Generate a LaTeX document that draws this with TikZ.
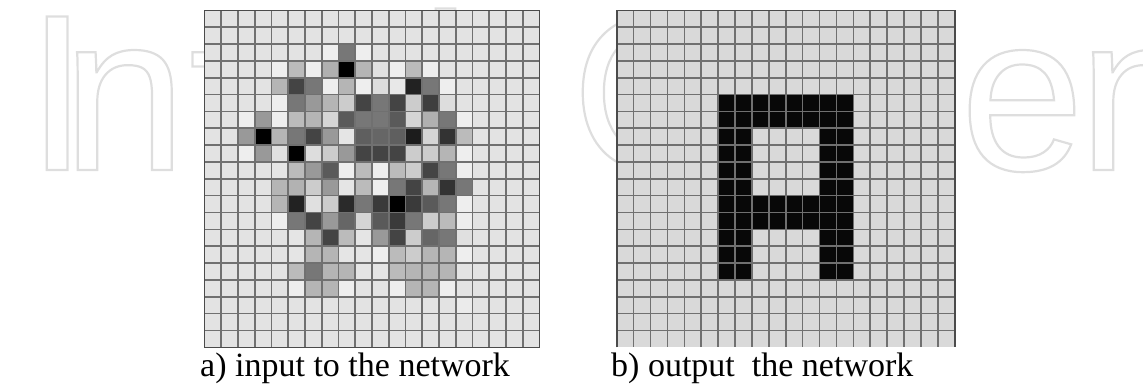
\documentclass[tikz,border=0pt]{standalone}
\usepackage{fontspec}
\newfontfamily\wmfont{Liberation Sans}
\newfontfamily\capfont{Liberation Serif}
\definecolor{lbg}{RGB}{227,227,227}
\definecolor{rbg}{RGB}{217,217,217}
\definecolor{gl}{RGB}{112,112,112}
\definecolor{gb}{RGB}{75,75,75}
\definecolor{wm}{RGB}{222,222,222}
\definecolor{ink}{RGB}{8,8,8}
\newcommand{\outl}[1]{\special{pdf:literal direct 1 Tr 2.2 w}#1\special{pdf:literal direct 0 Tr}}
\tikzset{
  gline/.style={draw=gl, line width=1.6pt},
  gborder/.style={draw=gb, line width=1.6pt},
  wmletter/.style={anchor=base west, inner sep=0pt, text=wm, font=\wmfont\fontsize{223}{223}\selectfont},
  caption/.style={anchor=base west, inner sep=0pt, font=\capfont\fontsize{34}{36}\selectfont},
}
\begin{document}
\begin{tikzpicture}[x=1pt,y=-1pt]
\useasboundingbox (0,0) rectangle (1143,384);
% ---------- watermark (behind the grids) ----------
\node[wmletter] (w1) at (26,170) {\outl{I}};
\node[wmletter] (w2) at (62,170) {\outl{n}};
\node[wmletter] (w3) at (189,170) {\outl{t}};
\node[wmletter] (w4) at (240,170) {\outl{e}};
\node[wmletter] (w5) at (335,170) {\outl{c}};
\node[wmletter] (w6) at (420,170) {\outl{h}};
\node[wmletter] (w7) at (572,170) {\outl{O}};
\node[wmletter] (w8) at (780,170) {\outl{p}};
\node[wmletter] (w9) at (960,170) {\outl{e}};
\node[wmletter] (w10) at (1078,170) {\outl{n}};
% ---------- left grid ----------
\def\LX{204.5}\def\LY{10.3}\def\LW{16.75}\def\LH{16.85}
\fill[lbg] (\LX,\LY) rectangle ++({20*\LW},{20*\LH});
\foreach \c/\r/\v in {
 7/2/238, 8/2/119, 9/2/238,
 4/3/238, 5/3/187, 6/3/238, 7/3/176, 8/3/0, 9/3/181, 10/3/224, 11/3/238, 12/3/187, 13/3/238,
 4/4/181, 5/4/68, 6/4/119, 7/4/238, 8/4/181, 9/4/238, 10/4/221, 11/4/232, 12/4/34, 13/4/119, 14/4/238,
 4/5/238, 5/5/119, 6/5/153, 7/5/181, 8/5/204, 9/5/68, 10/5/119, 11/5/68, 12/5/204, 13/5/62, 14/5/221,
 2/6/238, 3/6/153, 4/6/238, 5/6/187, 6/6/181, 7/6/213, 8/6/90, 9/6/119, 10/6/119, 11/6/90, 12/6/213, 13/6/176, 14/6/119, 15/6/238,
 2/7/153, 3/7/0, 4/7/181, 5/7/119, 6/7/68, 7/7/153, 8/7/229, 9/7/95, 10/7/102, 11/7/95, 12/7/28, 13/7/213, 14/7/51, 15/7/187,
 2/8/238, 3/8/153, 4/8/224, 5/8/0, 6/8/221, 7/8/204, 8/8/153, 9/8/68, 10/8/68, 11/8/68, 12/8/204, 13/8/204, 14/8/181, 15/8/238,
 4/9/229, 5/9/187, 6/9/153, 7/9/90, 8/9/238, 9/9/187, 10/9/238, 11/9/187, 12/9/204, 13/9/68, 14/9/119, 15/9/238,
 4/10/181, 5/10/178, 6/10/204, 7/10/153, 8/10/229, 9/10/187, 10/10/238, 11/10/119, 12/10/68, 13/10/181, 14/10/51, 15/10/119,
 4/11/181, 5/11/34, 6/11/224, 7/11/204, 8/11/42, 9/11/119, 10/11/58, 11/11/0, 12/11/58, 13/11/90, 14/11/119, 15/11/238,
 4/12/238, 5/12/119, 6/12/68, 7/12/153, 8/12/102, 9/12/213, 10/12/90, 11/12/58, 12/12/119, 13/12/204, 14/12/187, 15/12/238,
 5/13/229, 6/13/181, 7/13/68, 8/13/187, 9/13/229, 10/13/153, 11/13/68, 12/13/204, 13/13/102, 14/13/119, 15/13/224,
 5/14/229, 6/14/181, 7/14/181, 8/14/229, 9/14/229, 10/14/238, 11/14/187, 12/14/204, 13/14/181, 14/14/181, 15/14/238,
 5/15/187, 6/15/119, 7/15/181, 8/15/181, 9/15/229, 10/15/229, 11/15/187, 12/15/181, 13/15/181, 14/15/181,
 5/16/238, 6/16/181, 7/16/181, 8/16/238, 11/16/238, 12/16/181, 13/16/181, 14/16/238,
 15/17/235
}{
  \fill[fill={rgb,255:red,\v;green,\v;blue,\v}] ({\LX+\c*\LW},{\LY+\r*\LH}) rectangle ++(\LW,\LH);
}
\foreach \i in {1,...,19}{
  \draw[gline] ({\LX+\i*\LW},\LY) -- ++(0,{20*\LH});
  \draw[gline] (\LX,{\LY+\i*\LH}) -- ++({20*\LW},0);
}
\draw[gborder] (\LX,\LY) rectangle ++({20*\LW},{20*\LH});
% ---------- right grid ----------
\def\RX{616.7}\def\RY{10.3}\def\RW{16.9}\def\RH{16.85}
\fill[rbg] (\RX,\RY) rectangle ++({20*\RW},{20*\RH});
\foreach \c in {6,...,13}{
  \foreach \r in {5,6,11,12}{
    \fill[ink] ({\RX+\c*\RW},{\RY+\r*\RH}) rectangle ++(\RW,\RH);
  }
}
\foreach \c in {6,7,12,13}{
  \foreach \r in {7,...,10,13,14,15}{
    \fill[ink] ({\RX+\c*\RW},{\RY+\r*\RH}) rectangle ++(\RW,\RH);
  }
}
\foreach \i in {1,...,19}{
  \draw[gline] ({\RX+\i*\RW},\RY) -- ++(0,{20*\RH});
  \draw[gline] (\RX,{\RY+\i*\RH}) -- ++({20*\RW},0);
}
\draw[gborder] (\RX,{\RY+20*\RH}) -- (\RX,\RY) -- ({\RX+20*\RW},\RY) -- ({\RX+20*\RW},{\RY+20*\RH});
% ---------- captions ----------
\node[caption] (capa) at (200,376) {a) input to the network};
\node[caption] (capb) at (611,376) {b) output\ \ the network};
\end{tikzpicture}
\end{document}
